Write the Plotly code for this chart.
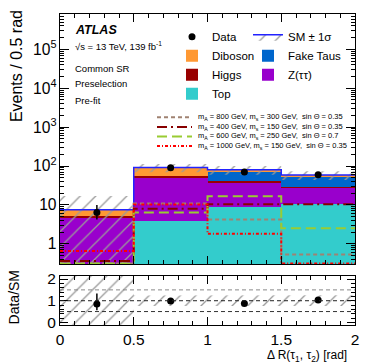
import numpy as np
import plotly.graph_objects as go

# ---------------- data ----------------
bin_edges = [0.0, 0.5, 1.0, 1.5, 2.0]
bin_centers = [0.25, 0.75, 1.25, 1.75]

top = [0.0, 3.9, 8.9, 10.8]
ztautau = [4.8, 44.0, 29.0, 17.0]
higgs = [0.4, 8.0, 4.0, 1.0]
fake_taus = [0.0, 0.0, 30.0, 22.0]
diboson = [2.3, 35.0, 8.0, 7.5]
sm_unc = [9.5, 22.0, 20.0, 14.5]

data = [6.4, 90.0, 70.0, 60.0]
data_err_up = [3.6, 10.0, 9.0, 8.3]
data_err_down = [2.2, 9.0, 8.0, 7.3]

sig_800_300 = [0.31, 10.8, 4.2, 0.53]
sig_400_150 = [0.36, 8.0, 10.4, 10.4]
sig_600_250 = [0.31, 6.4, 16.6, 2.5]
sig_1000_150 = [0.65, 10.3, 1.8, 0.31]

# ---------------- styling ----------------
FONT = "Liberation Sans, Arial, Helvetica, sans-serif"
W, H = 374, 363
ML, MR, MT, MB = 60, 19, 9, 38
PW, PH = W - ML - MR, H - MT - MB


def px_x(px):
    return (px - ML) / PW


def px_y(py):
    return (H - MB - py) / PH


C_TOP = "#33cccc"
C_Z = "#9900cc"
C_HIGGS = "#990000"
C_FAKE = "#0066cc"
C_DIB = "#ff9933"
C_SM = "#2222ff"
HATCH = dict(shape="/", fgcolor="#9a9a9a", bgcolor="rgba(0,0,0,0)", size=11,
             solidity=0.12, fillmode="replace")

signals = [
    ("m<sub>A</sub> = 800 GeV, m<sub>s</sub> = 300 GeV,  sin \u0398 = 0.35", sig_800_300, "#a08272", "4px,3px"),
    ("m<sub>A</sub> = 400 GeV, m<sub>s</sub> = 150 GeV,  sin \u0398 = 0.35", sig_400_150, "#880000", "10px,4px,2px,4px"),
    ("m<sub>A</sub> = 600 GeV, m<sub>s</sub> = 250 GeV,  sin \u0398 = 0.7", sig_600_250, "#99cc33", "10px,5px"),
    ("m<sub>A</sub> = 1000 GeV, m<sub>s</sub> = 150 GeV,  sin \u0398 = 0.35", sig_1000_150, "#ff0000", "3px,2px,1px,2px"),
]

sm = np.sum([top, ztautau, higgs, fake_taus, diboson], axis=0)
unc = np.array(sm_unc)


def band_path(lo, hi):
    xs, ys = [], []
    for i in range(len(hi)):
        xs += [bin_edges[i], bin_edges[i + 1]]
        ys += [hi[i], hi[i]]
    for i in reversed(range(len(lo))):
        xs += [bin_edges[i + 1], bin_edges[i]]
        ys += [lo[i], lo[i]]
    xs.append(xs[0])
    ys.append(ys[0])
    return xs, ys


def step(vals):
    return list(vals) + [vals[-1]]


fig = go.Figure()

# stacked backgrounds
for name, vals, col, rank, leg in [
    ("Top", top, C_TOP, 4, "legend"),
    ("Z(\u03c4\u03c4)", ztautau, C_Z, 3, "legend2"),
    ("Higgs", higgs, C_HIGGS, 3, "legend"),
    ("Fake Taus", fake_taus, C_FAKE, 2, "legend2"),
    ("Diboson", diboson, C_DIB, 2, "legend"),
]:
    fig.add_trace(go.Bar(x=bin_centers, y=vals, width=0.5, name=name, marker=dict(color=col, line=dict(width=0)),
                         xaxis="x", yaxis="y", legend=leg, legendrank=rank, legendgroup=name, hoverinfo="skip"))

# uncertainty band (main)
lo_main = np.maximum(sm - unc, 1e-3)
bx, by = band_path(lo_main, sm + unc)
fig.add_trace(go.Scatter(x=bx, y=by, mode="lines", line=dict(width=0), fill="toself", fillcolor="rgba(0,0,0,0)",
                         fillpattern=HATCH, showlegend=False, xaxis="x", yaxis="y", hoverinfo="skip"))

# SM total line
fig.add_trace(go.Scatter(x=bin_edges, y=step(sm), mode="lines", line=dict(color=C_SM, width=1.5, shape="hv"),
                         showlegend=False, xaxis="x", yaxis="y", hoverinfo="skip"))
# legend entry for SM +- 1 sigma
fig.add_trace(go.Scatter(x=[None], y=[None], mode="lines", line=dict(color=C_SM, width=1.5), fill="toself",
                         fillcolor="rgba(0,0,0,0)", fillpattern=HATCH, name="SM \u00b1 1\u03c3",
                         xaxis="x", yaxis="y", legend="legend2", legendrank=1, legendgroup="sm"))

# signals
for label, vals, col, dash in signals:
    fig.add_trace(go.Scatter(x=bin_edges, y=step(vals), mode="lines",
                             line=dict(color=col, width=2, dash=dash, shape="hv"),
                             showlegend=False, xaxis="x", yaxis="y", hoverinfo="skip"))

# data
fig.add_trace(go.Scatter(x=bin_centers, y=data, mode="markers", name="Data",
                         marker=dict(color="black", size=7),
                         error_y=dict(type="data", symmetric=False, array=data_err_up, arrayminus=data_err_down,
                                      color="black", thickness=1.5, width=0),
                         xaxis="x", yaxis="y", legend="legend", legendrank=1, legendgroup="data"))

# ---------------- ratio panel ----------------
rlo = 1 - unc / sm
rhi = 1 + unc / sm
rx, ry = band_path(rlo, rhi)
fig.add_trace(go.Scatter(x=rx, y=ry, mode="lines", line=dict(width=0), fill="toself", fillcolor="rgba(0,0,0,0)",
                         fillpattern=HATCH, showlegend=False, xaxis="x2", yaxis="y2", hoverinfo="skip"))

ratio = np.array(data) / sm
fig.add_trace(go.Scatter(x=bin_centers, y=ratio, mode="markers", marker=dict(color="black", size=7),
                         error_y=dict(type="data", symmetric=False, array=np.array(data_err_up) / sm,
                                      arrayminus=np.array(data_err_down) / sm, color="black", thickness=1.5, width=0),
                         showlegend=False, xaxis="x2", yaxis="y2", hoverinfo="skip"))

for yv, col in [(0.5, "#333333"), (1.0, "#222222"), (1.5, "#888888")]:
    fig.add_shape(type="line", xref="x2", yref="y2", x0=0, x1=2, y0=yv, y1=yv,
                  line=dict(color=col, width=1, dash="4px,3px"))

# ---------------- axes ----------------
axis_common = dict(showline=True, linecolor="black", linewidth=1, mirror="allticks", ticks="inside",
                   tickcolor="black", showgrid=False, zeroline=False)
main_bottom = px_y(263)
ratio_top = px_y(275)

fig.update_layout(
    width=W, height=H, margin=dict(l=ML, r=MR, t=MT, b=MB),
    plot_bgcolor="white", paper_bgcolor="white", barmode="stack", bargap=0,
    font=dict(family=FONT, color="black"),
    xaxis=dict(domain=[0, 1], range=[0, 2], anchor="y", showticklabels=False, dtick=0.5, ticklen=8,
               minor=dict(dtick=0.1, ticks="inside", ticklen=4, tickcolor="black"), matches="x2", **axis_common),
    yaxis=dict(domain=[main_bottom, 1], type="log", range=[-0.52, 5.91], anchor="x", dtick=1,
               exponentformat="power", tickfont=dict(size=12.5), ticklen=9,
               minor=dict(dtick="D1", ticks="inside", ticklen=4, tickcolor="black"), **axis_common),
    xaxis2=dict(domain=[0, 1], range=[0, 2], anchor="y2", dtick=0.5, tickfont=dict(size=15.5), ticklen=8,
                minor=dict(dtick=0.1, ticks="inside", ticklen=4, tickcolor="black"), **axis_common),
    yaxis2=dict(domain=[0, ratio_top], range=[-0.12, 2.15], anchor="x2", tickvals=[0, 1, 2],
                tickfont=dict(size=15.5), ticklen=8,
                minor=dict(dtick=0.2, ticks="inside", ticklen=4, tickcolor="black"), **axis_common),
    legend=dict(x=px_x(172), y=px_y(17.5), xanchor="left", yanchor="top", bgcolor="rgba(0,0,0,0)",
                font=dict(size=11.5), tracegroupgap=3, traceorder="normal"),
    legend2=dict(x=px_x(248), y=px_y(17.5), xanchor="left", yanchor="top", bgcolor="rgba(0,0,0,0)",
                 font=dict(size=11.5), tracegroupgap=3, traceorder="normal"),
)

# ---------------- text ----------------
ann = []
ann.append(dict(text="<b><i>ATLAS</i></b>", x=px_x(73), y=px_y(25), font=dict(size=12.5)))
ann.append(dict(text="\u221as = 13 TeV, 139 fb<sup>-1</sup>", x=px_x(73), y=px_y(42), font=dict(size=9.5)))
ann.append(dict(text="Common SR", x=px_x(73), y=px_y(64), font=dict(size=9.5)))
ann.append(dict(text="Preselection", x=px_x(73), y=px_y(80), font=dict(size=9.5)))
ann.append(dict(text="Pre-fit", x=px_x(73), y=px_y(97), font=dict(size=9.5)))
for a in ann:
    a.update(xref="paper", yref="paper", xanchor="left", yanchor="middle", showarrow=False)
    fig.add_annotation(**a)

# manual legend for the signal hypotheses (compact rows)
for i, (label, vals, col, dash) in enumerate(signals):
    yy = px_y(114 + 9.7 * i)
    fig.add_shape(type="line", xref="paper", yref="paper", x0=px_x(157), x1=px_x(192), y0=yy, y1=yy,
                  line=dict(color=col, width=2, dash=dash))
    fig.add_annotation(text=label, xref="paper", yref="paper", x=px_x(196), y=yy, xanchor="left",
                       yanchor="middle", showarrow=False, font=dict(size=7.5))

# axis titles
fig.add_annotation(text="Events / 0.5 rad", xref="paper", yref="paper", x=px_x(16), y=px_y(3),
                   xanchor="center", yanchor="top", textangle=-90, showarrow=False, font=dict(size=16))
fig.add_annotation(text="Data/SM", xref="paper", yref="paper", x=px_x(14), y=px_y(297),
                   xanchor="center", yanchor="middle", textangle=-90, showarrow=False, font=dict(size=14))
fig.add_annotation(text="\u0394 R(\u03c4<sub>1</sub>, \u03c4<sub>2</sub>) [rad]", xref="paper", yref="paper",
                   x=px_x(349), y=px_y(356), xanchor="right", yanchor="middle", showarrow=False,
                   font=dict(size=12))

fig.write_html("out.html", config={"displayModeBar": False},
               post_script="document.body.style.margin='0px';document.body.style.overflow='hidden';")
